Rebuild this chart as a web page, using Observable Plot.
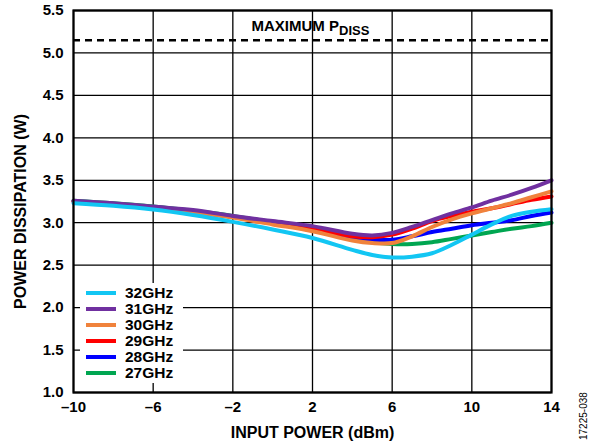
<!DOCTYPE html>
<html>
<head>
<meta charset="utf-8">
<script src="https://cdn.jsdelivr.net/npm/d3@7"></script>
<script src="https://cdn.jsdelivr.net/npm/@observablehq/plot@0.6"></script>
<style>
  html, body { margin: 0; padding: 0; background: #fff; }
  #wrap { position: relative; width: 590px; height: 446px; font-family: "Liberation Sans", Arial, sans-serif; }
  #legend { position: absolute; left: 80px; top: 283px; width: 103px; height: 100px; background: #fff; }
  .item { position: absolute; left: 0; height: 16px; width: 103px; }
  .swatch { position: absolute; left: 6px; top: 7px; width: 30px; height: 4px; }
  .lab { position: absolute; left: 45px; top: 0; font-size: 15.5px; font-weight: bold; line-height: 18px; color: #000; }
  #code { position: absolute; left: 578px; top: 440px; transform-origin: 0 0; transform: rotate(-90deg); font-size: 10px; line-height: 12px; color: #000; white-space: nowrap; }
</style>
</head>
<body>
<div id="wrap"></div>
<script>
// ---- data ----
const xValues = [-10, -8, -6, -4, -2, 0, 2, 4, 5, 6, 7, 8, 9, 10, 11, 12, 13, 14];
const seriesNames = ["32GHz", "31GHz", "30GHz", "29GHz", "28GHz", "27GHz"];
const seriesColors = ["#12c6f3", "#7030a0", "#f0823c", "#ff0000", "#0000ff", "#00a651"];
const p32 = [3.23, 3.20, 3.155, 3.09, 3.01, 2.92, 2.82, 2.68, 2.62, 2.59, 2.60, 2.64, 2.74, 2.86, 2.98, 3.08, 3.13, 3.16];
const p31 = [3.26, 3.23, 3.19, 3.15, 3.08, 3.02, 2.96, 2.87, 2.85, 2.88, 2.95, 3.03, 3.11, 3.18, 3.26, 3.33, 3.41, 3.50];
const p30 = [3.25, 3.22, 3.18, 3.13, 3.06, 2.98, 2.90, 2.79, 2.76, 2.76, 2.84, 2.95, 3.04, 3.11, 3.17, 3.23, 3.30, 3.37];
const p29 = [3.25, 3.22, 3.18, 3.13, 3.07, 3.00, 2.93, 2.84, 2.83, 2.86, 2.93, 3.02, 3.08, 3.13, 3.17, 3.22, 3.27, 3.31];
const p28 = [3.25, 3.22, 3.18, 3.13, 3.07, 3.00, 2.93, 2.83, 2.80, 2.80, 2.84, 2.89, 2.93, 2.97, 3.00, 3.03, 3.08, 3.12];
const p27 = [3.26, 3.23, 3.19, 3.14, 3.08, 3.00, 2.92, 2.81, 2.77, 2.75, 2.75, 2.77, 2.81, 2.85, 2.89, 2.93, 2.96, 3.00];
const seriesValues = [p32, p31, p30, p29, p28, p27];
const maxPdiss = [5.15];
const xTicks = [-10, -6, -2, 2, 6, 10, 14];
const yTicks = [1.0, 1.5, 2.0, 2.5, 3.0, 3.5, 4.0, 4.5, 5.0, 5.5];
const xLabel = "INPUT POWER (dBm)";
const yLabel = ["POWER DISSIPATION (W)"];
const maxLabel = ["MAXIMUM P"];
const maxSub = "DISS";
const figCode = "17225-038";

// draw order: 27GHz first, 32GHz last (on top)
const drawOrder = [5, 4, 3, 2, 1, 0];
const data = [];
for (const s of drawOrder) {
  xValues.forEach((x, i) => data.push({x, y: seriesValues[s][i], series: seriesNames[s]}));
}

const font = "'Liberation Sans', Arial, sans-serif";
const chart = Plot.plot({
  width: 590, height: 446,
  marginLeft: 73, marginRight: 39, marginTop: 10, marginBottom: 54,
  style: {fontFamily: font, fontSize: "15px", fontWeight: "bold", color: "#000", background: "#fff", overflow: "visible"},
  x: {domain: [-10, 14]},
  y: {domain: [1, 5.5]},
  color: {domain: seriesNames, range: seriesColors},
  marks: [
    Plot.gridX(xTicks, {stroke: "#000", strokeOpacity: 1, strokeWidth: 1.3}),
    Plot.gridY(yTicks, {stroke: "#000", strokeOpacity: 1, strokeWidth: 1.3}),
    Plot.ruleY(maxPdiss, {stroke: "#000", strokeWidth: 2.5, strokeDasharray: "7,5"}),
    Plot.line(data, {x: "x", y: "y", z: "series", stroke: "series", strokeWidth: 4, curve: "catmull-rom"}),
    Plot.frame({stroke: "#000", strokeWidth: 2.2}),
    Plot.axisX(xTicks, {tickSize: 0, tickPadding: 9, fontSize: 15,
      tickFormat: d => (d < 0 ? "\u2013" + Math.abs(d) : String(d)),
      label: null}),
    Plot.axisX({label: xLabel, ticks: [], tickSize: 0, labelAnchor: "center", labelArrow: "none", labelOffset: 45, fontSize: 16}),
    Plot.axisY(yTicks, {tickSize: 0, tickPadding: 10, fontSize: 15,
      tickFormat: d3.format(".1f"), label: null}),
    Plot.text(yLabel, {frameAnchor: "left", textAnchor: "middle", rotate: -90, dx: -53, dy: 10, fontSize: 16, fontWeight: "bold", fill: "#000"}),
    Plot.text(maxLabel, {frameAnchor: "top-left", dx: 178, dy: 10, textAnchor: "start", fontSize: 15, fontWeight: "bold", fill: "#000"})
  ]
});

const wrap = document.getElementById("wrap");
wrap.appendChild(chart);

// subscript
d3.select(chart).selectAll("text").filter(function() { return this.textContent === maxLabel[0]; })
  .append("tspan").attr("dy", "0.3em").attr("font-size", 13).text(maxSub);

// legend
const legend = document.createElement("div");
legend.id = "legend";
seriesNames.forEach((name, i) => {
  const item = document.createElement("div");
  item.className = "item";
  item.style.top = (1 + i * 16) + "px";
  const sw = document.createElement("div");
  sw.className = "swatch";
  sw.style.background = seriesColors[i];
  const lab = document.createElement("div");
  lab.className = "lab";
  lab.textContent = name;
  item.appendChild(sw); item.appendChild(lab);
  legend.appendChild(item);
});
wrap.appendChild(legend);

const code = document.createElement("div");
code.id = "code";
code.textContent = figCode;
wrap.appendChild(code);
</script>
</body>
</html>
